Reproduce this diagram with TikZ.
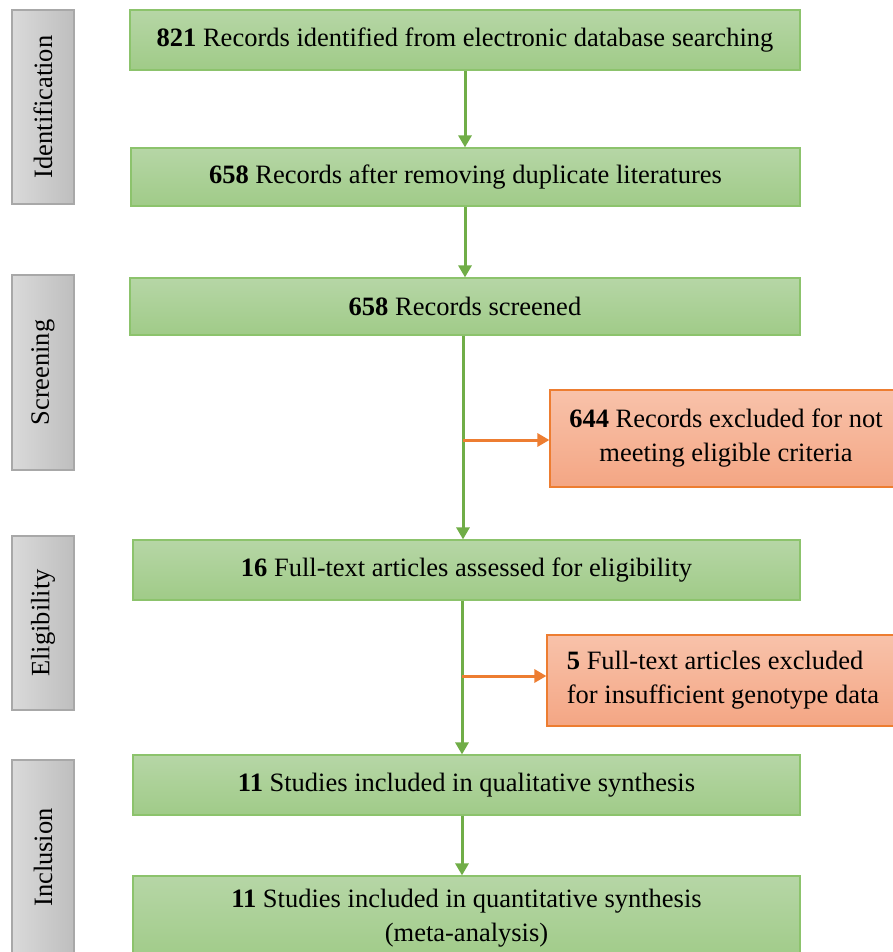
\documentclass[tikz,border=0pt]{standalone}
\usepackage{fontspec}
\setmainfont{Liberation Serif}
\usetikzlibrary{arrows.meta}
\definecolor{gtop}{RGB}{182,214,166}
\definecolor{gbot}{RGB}{160,203,136}
\definecolor{gline}{RGB}{140,195,108}
\definecolor{garr}{RGB}{112,173,71}
\definecolor{otop}{RGB}{248,194,170}
\definecolor{obot}{RGB}{244,166,132}
\definecolor{oline}{RGB}{237,125,49}
\definecolor{sleft}{RGB}{218,218,218}
\definecolor{sright}{RGB}{190,190,190}
\definecolor{sline}{RGB}{168,168,168}
\tikzset{
  gbox/.style={draw=gline, line width=1.2pt, top color=gtop, bottom color=gbot, inner sep=0pt, align=center, font=\fontsize{26.5}{34}\selectfont},
  obox/.style={draw=oline, line width=1.2pt, top color=otop, bottom color=obot, inner sep=0pt, font=\fontsize{26.5}{34}\selectfont},
  sbox/.style={draw=sline, line width=1.2pt, left color=sleft, right color=sright, inner sep=0pt},
  slabel/.style={rotate=90, font=\fontsize{26.5}{34}\selectfont},
  garrow/.style={draw=garr, line width=3pt, -{Triangle[width=13pt,length=12pt]}},
  oarrow/.style={draw=oline, line width=3pt, -{Triangle[width=13pt,length=12pt]}},
}
\begin{document}
\begin{tikzpicture}[x=1pt,y=-1pt]
\useasboundingbox (0,0) rectangle (893,952);
% side boxes
\node[sbox, minimum width=62pt, minimum height=194pt] (s1) at (43,107) {};
\node[slabel] at (s1.center) {Identification};
\node[sbox, minimum width=62pt, minimum height=195pt] (s2) at (43,372.5) {};
\node[slabel] at (s2.center) {Screening};
\node[sbox, minimum width=62pt, minimum height=174pt] (s3) at (43,623) {};
\node[slabel] at (s3.center) {Eligibility};
\node[sbox, minimum width=62pt, minimum height=195pt] (s4) at (43,857.5) {};
\node[slabel] at (s4.center) {Inclusion};
% main boxes
\node[gbox, minimum width=670pt, minimum height=60pt] (b1) at (465,40) {\textbf{821} Records identified from electronic database searching};
\node[gbox, minimum width=669pt, minimum height=58pt] (b2) at (465.5,177) {\textbf{658} Records after removing duplicate literatures};
\node[gbox, minimum width=670pt, minimum height=57pt] (b3) at (465,306.5) {\textbf{658} Records screened};
\node[gbox, minimum width=667pt, minimum height=60pt] (b4) at (466.5,570) {\textbf{16} Full-text articles assessed for eligibility};
\node[gbox, minimum width=667pt, minimum height=60pt] (b5) at (466.5,785) {\textbf{11} Studies included in qualitative synthesis};
\node[gbox, minimum width=667pt, minimum height=85pt] (b6) at (466.5,918.5) {\textbf{11} Studies included in quantitative synthesis\\(meta-analysis)};
% exclusion boxes
\node[obox, minimum width=352pt, minimum height=97pt, align=center] (oa) at (726,438.5) {\textbf{644} Records excluded for not\\meeting eligible criteria};
\node[obox, minimum width=352pt, minimum height=91pt, align=left] (ob) at (723,680.5) {\textbf{5} Full-text articles excluded\\for insufficient genotype data};
% connectors
\coordinate (c1) at (465,0);
\coordinate (c3) at (463,0);
\coordinate (c4) at (462,0);
\draw[garrow] (b1.south -| c1) -- (b2.north -| c1);
\draw[garrow] (b2.south -| c1) -- (b3.north -| c1);
\draw[garrow] (b3.south -| c3) -- (b4.north -| c3);
\draw[garrow] (b4.south -| c4) -- (b5.north -| c4);
\draw[garrow] (b5.south -| c4) -- (b6.north -| c4);
\coordinate (ya) at (0,440);
\coordinate (yb) at (0,676);
\draw[oarrow] (ya -| c3) -- (ya -| oa.west);
\draw[oarrow] (yb -| c4) -- (yb -| ob.west);
\end{tikzpicture}
\end{document}
